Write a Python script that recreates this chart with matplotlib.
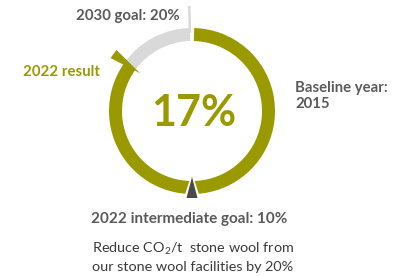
import numpy as np
import matplotlib.pyplot as plt
from matplotlib.patches import Wedge, Polygon

# --- datos ---
result_2022 = 17        # % reduccion lograda
goal_2030 = 20          # % objetivo 2030
goal_interm = 10        # % objetivo intermedio 2022
labels = {
    'goal': '2030 goal: 20%',
    'result': '2022 result',
    'center': '17%',
    'baseline': 'Baseline year:\n2015',
    'interm': '2022 intermediate goal: 10%',
    'desc1': 'Reduce CO$_\\mathrm{2}$/t  stone wool from',
    'desc2': 'our stone wool facilities by 20%',
}

olive = '#9a9a00'
light = '#d9d9d9'
txt_grey = '#5a5a5a'
dark = '#4a4a4a'

plt.rcParams['font.family'] = ['Lato', 'DejaVu Sans']
plt.rcParams['mathtext.fontset'] = 'custom'
plt.rcParams['mathtext.rm'] = 'Lato'

fig = plt.figure(figsize=(4.13, 2.76), dpi=100)
ax = fig.add_axes([0, 0, 1, 1])
ax.set_xlim(0, 413)
ax.set_ylim(276, 0)
ax.axis('off')

cx, cy = 192, 111
r_out, w = 83, 13
deg_per_pct = 360 / goal_2030

def ang(v):
    return -90 + v * deg_per_pct

def pt(r, a):
    t = np.radians(a)
    return cx + r * np.cos(t), cy + r * np.sin(t)

def tri(a, r_tip, r_base, half):
    # triangulo radial: punta hacia el centro, base hacia fuera
    t = np.radians(a)
    nx, ny = -np.sin(t), np.cos(t)
    bx, by = pt(r_base, a)
    return [pt(r_tip, a), (bx + half * nx, by + half * ny), (bx - half * nx, by - half * ny)]

# anillo
a_res = ang(result_2022)
ax.add_patch(Wedge((cx, cy), r_out, ang(0) + 1.5, a_res, width=w, color=olive, lw=0))
ax.add_patch(Wedge((cx, cy), r_out, a_res, ang(goal_2030) - 1.5, width=w, color=light, lw=0))

# linea del objetivo 2030
x0, y0 = pt(r_out - 5, ang(goal_2030) - 1.5)
x1, y1 = pt(r_out + 22, ang(goal_2030) - 1.5)
ax.plot([x0, x1], [y0, y1], color=light, lw=1.8, solid_capstyle='butt')

# marcador resultado 2022
ax.add_patch(Polygon(tri(a_res, 64, 97, 5), closed=True, color=olive, lw=0))

# marcador objetivo intermedio
a_i = ang(goal_interm)
ax.add_patch(Polygon(tri(a_i, 62, 88, 8.5), closed=True, color='white', lw=0))
ax.add_patch(Polygon(tri(a_i, 66, 87, 5.5), closed=True, color=dark, lw=0))

# textos
ax.text(180, 20, labels['goal'], ha='right', va='baseline', fontsize=10.8,
        fontweight='bold', color=txt_grey)
ax.text(100, 76, labels['result'], ha='right', va='baseline', fontsize=10.8,
        fontweight='bold', color=olive)
ax.text(cx + 2, 126, labels['center'], ha='center', va='baseline', fontsize=31,
        fontweight='bold', color=olive)
ax.text(295, 108, labels['baseline'], ha='left', va='baseline', fontsize=10.7,
        fontweight='bold', color=txt_grey, linespacing=1.2)
ax.text(91, 223, labels['interm'], ha='left', va='baseline', fontsize=11,
        fontweight='bold', color=txt_grey)
ax.text(92, 253, labels['desc1'], ha='left', va='baseline', fontsize=10.4,
        color='#3a3a3a')
ax.text(92, 271, labels['desc2'], ha='left', va='baseline', fontsize=10.4,
        color='#3a3a3a')

fig.savefig('out.png', dpi=100)
